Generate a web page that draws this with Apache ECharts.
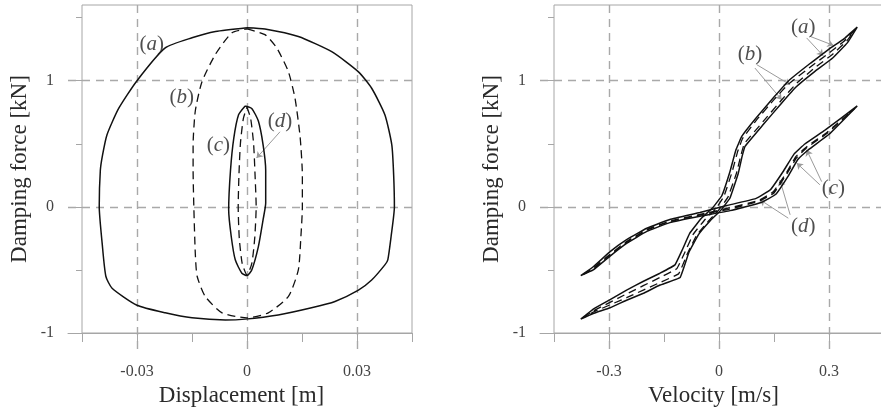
<!DOCTYPE html>
<html><head><meta charset="utf-8">
<script src="https://cdn.jsdelivr.net/npm/echarts@6/dist/echarts.min.js"></script>
<style>html,body{margin:0;padding:0;background:#fff}#c{width:881px;height:410px}</style>
</head><body><div id="c"></div>
<script>
// ---------- tick labels ----------
const dispTickVals = [-0.03, 0, 0.03];
const dispTickLabels = ['-0.03', '0', '0.03'];
const velTickVals = [-0.3, 0, 0.3];
const velTickLabels = ['-0.3', '0', '0.3'];
const forceTickVals = [-1, 0, 1];
const forceTickLabels = ['-1', '0', '1'];

// ---------- left panel: force vs displacement ----------
const dispA = [[0.0,1.42],[0.0049,1.41],[0.014,1.35],[0.0231,1.23],[0.0304,1.07],[0.034,0.94],[0.0376,0.73],[0.0395,0.49],[0.040,0.25],[0.0402,0.0],[0.0393,-0.235],[0.0384,-0.42],[0.0376,-0.46],[0.034,-0.58],[0.0304,-0.66],[0.024,-0.75],[0.0176,-0.80],[0.0085,-0.857],[-0.0005,-0.89],[-0.0059,-0.897],[-0.015,-0.88],[-0.0223,-0.84],[-0.030,-0.78],[-0.0368,-0.645],[-0.0385,-0.55],[-0.0395,-0.29],[-0.0403,0.0],[-0.040,0.29],[-0.0394,0.41],[-0.0382,0.57],[-0.035,0.78],[-0.030,1.0],[-0.0223,1.26],[-0.015,1.34],[-0.0086,1.39],[0.0,1.42]];
const dispB = [[0.0,1.41],[0.0049,1.365],[0.0081,1.26],[0.0113,1.07],[0.0131,0.86],[0.0145,0.55],[0.0151,0.25],[0.0151,0.0],[0.0147,-0.235],[0.014,-0.5],[0.0113,-0.71],[0.0058,-0.84],[0.0,-0.88],[-0.0068,-0.84],[-0.0114,-0.71],[-0.0136,-0.55],[-0.0141,-0.37],[-0.0145,0.0],[-0.0147,0.29],[-0.0147,0.49],[-0.0141,0.76],[-0.0123,0.99],[-0.0086,1.21],[-0.0041,1.38],[0.0,1.41]];
const dispC = [[-0.0005,0.80],[0.0013,0.78],[0.0031,0.68],[0.0044,0.49],[0.0051,0.29],[0.0051,0.03],[0.0044,-0.10],[0.0031,-0.315],[0.0013,-0.50],[0.0,-0.545],[-0.0014,-0.526],[-0.0032,-0.42],[-0.0043,-0.235],[-0.005,-0.024],[-0.0045,0.29],[-0.0036,0.545],[-0.0023,0.73],[-0.0005,0.80]];
const dispD = [[0,0.79],[0.001,0.70],[0.0018,0.50],[0.0022,0.25],[0.0025,0.0],[0.0021,-0.25],[0.0013,-0.45],[0,-0.54],[-0.0013,-0.45],[-0.0021,-0.25],[-0.0024,0.0],[-0.0022,0.25],[-0.0018,0.5],[-0.001,0.70],[0,0.79]];

// ---------- right panel: force vs velocity ----------
const velA = [[-0.377,-0.89],[-0.343,-0.81],[-0.297,-0.735],[-0.252,-0.66],[-0.206,-0.59],[-0.161,-0.526],[-0.12,-0.46],[-0.10,-0.34],[-0.08,-0.21],[-0.048,-0.09],[-0.018,-0.01],[0.008,0.09],[0.03,0.28],[0.046,0.45],[0.062,0.558],[0.10,0.70],[0.15,0.87],[0.19,1.0],[0.25,1.14],[0.30,1.25],[0.34,1.33],[0.377,1.425],[0.35,1.30],[0.31,1.18],[0.26,1.07],[0.21,0.95],[0.17,0.82],[0.12,0.65],[0.071,0.48],[0.063,0.40],[0.052,0.26],[0.03,0.07],[0.004,-0.03],[-0.024,-0.11],[-0.056,-0.22],[-0.082,-0.36],[-0.106,-0.56],[-0.161,-0.62],[-0.206,-0.685],[-0.252,-0.74],[-0.297,-0.80],[-0.343,-0.845],[-0.377,-0.89]];
const velB = [[-0.37,-0.88],[-0.343,-0.825],[-0.252,-0.69],[-0.161,-0.56],[-0.115,-0.49],[-0.093,-0.36],[-0.071,-0.22],[-0.038,-0.10],[-0.01,-0.02],[0.013,0.08],[0.035,0.27],[0.051,0.44],[0.064,0.54],[0.10,0.68],[0.15,0.85],[0.19,0.975],[0.25,1.11],[0.30,1.22],[0.34,1.31],[0.37,1.40],[0.35,1.32],[0.31,1.21],[0.26,1.10],[0.21,0.975],[0.17,0.845],[0.12,0.675],[0.069,0.50],[0.059,0.40],[0.047,0.26],[0.024,0.075],[-0.002,-0.03],[-0.028,-0.11],[-0.06,-0.22],[-0.086,-0.37],[-0.11,-0.53],[-0.161,-0.60],[-0.252,-0.72],[-0.343,-0.835],[-0.37,-0.88]];
const velC = [[-0.377,-0.545],[-0.343,-0.475],[-0.297,-0.355],[-0.252,-0.26],[-0.197,-0.17],[-0.134,-0.10],[-0.052,-0.045],[0.021,0.01],[0.10,0.065],[0.14,0.135],[0.175,0.28],[0.205,0.42],[0.235,0.50],[0.29,0.61],[0.377,0.80],[0.30,0.575],[0.245,0.455],[0.215,0.375],[0.19,0.25],[0.155,0.10],[0.115,0.035],[0.03,-0.03],[-0.052,-0.075],[-0.134,-0.125],[-0.197,-0.195],[-0.252,-0.29],[-0.297,-0.39],[-0.343,-0.50],[-0.377,-0.545]];
const velD = [[-0.37,-0.535],[-0.343,-0.485],[-0.297,-0.375],[-0.252,-0.275],[-0.197,-0.18],[-0.134,-0.112],[-0.052,-0.06],[0.025,-0.01],[0.108,0.05],[0.148,0.12],[0.183,0.265],[0.21,0.40],[0.24,0.478],[0.295,0.592],[0.37,0.78],[0.296,0.585],[0.24,0.47],[0.212,0.39],[0.185,0.262],[0.15,0.11],[0.11,0.045],[0.027,-0.02],[-0.052,-0.065],[-0.134,-0.117],[-0.197,-0.185],[-0.252,-0.282],[-0.297,-0.382],[-0.343,-0.492],[-0.37,-0.535]];

// ---------- annotations ----------
const curveNames = ['a', 'b', 'c', 'd'];
const leftLabelPos = [[-0.026, 1.286], [-0.0178, 0.865], [-0.0078, 0.49], [0.009, 0.675]];
const leftArrows = [[[0.009, 0.595], [0.0026, 0.387]]];
const rightLabelPos = [[0.230, 1.418], [0.0845, 1.206], [0.312, 0.148], [0.23, -0.156]];
const rightArrows = [
  [[0.248, 1.352], [0.312, 1.28]], [[0.239, 1.339], [0.284, 1.198]],
  [[0.103, 1.127], [0.194, 0.968]], [[0.098, 1.10], [0.171, 0.849]],
  [[0.28, 0.20], [0.239, 0.452]], [[0.275, 0.175], [0.212, 0.347]],
  [[0.189, -0.09], [0.112, 0.056]], [[0.194, -0.063], [0.166, 0.214]]
];

const SERIF = 'Liberation Serif, Times New Roman, serif';
const AX = '#a6a6a6';
const GRIDC = '#a9a9a9';
const T = 'rgba(0,0,0,0)';

function lookup(vals, labels) {
  return function (v) {
    const i = vals.findIndex(t => Math.abs(t - v) < 1e-9);
    return i >= 0 ? labels[i] : '';
  };
}

function panelAxes(xmin, xmax, xint, xName, xVals, xLabels) {
  const xs = [
    { // main
      type: 'value', gridIndex: 0, min: xmin, max: xmax, interval: xint, position: 'bottom',
      name: xName, nameLocation: 'middle', nameGap: 43,
      nameTextStyle: { fontFamily: SERIF, fontSize: 23, color: '#2a2a2a', padding: [0, 11, 0, 0] },
      axisLine: { show: false, onZero: false },
      axisTick: { show: true, inside: false, length: 9, lineStyle: { color: AX, width: 1 } },
      axisLabel: { show: true, margin: 31, fontFamily: SERIF, fontSize: 16, color: '#444', formatter: lookup(xVals, xLabels) },
      splitLine: { show: false }
    },
    { // vertical dashed gridlines (extend below axis)
      type: 'value', gridIndex: 1, min: xmin, max: xmax, interval: xint, position: 'bottom',
      axisLine: { show: false, onZero: false }, axisTick: { show: false }, axisLabel: { show: false },
      splitLine: { show: true, lineStyle: { color: [T, GRIDC, T, GRIDC, T, GRIDC, T], type: [8, 6], width: 1.4 } }
    },
    { // extended bottom axis line
      type: 'value', gridIndex: 2, min: 0, max: 1, position: 'bottom',
      axisLine: { show: true, onZero: false, lineStyle: { color: AX, width: 1 } },
      axisTick: { show: false }, axisLabel: { show: false }, splitLine: { show: false }
    }
  ];
  const ys = [
    {
      type: 'value', gridIndex: 0, min: -1, max: 1.6, interval: 0.5, position: 'left',
      name: 'Damping force [kN]', nameLocation: 'middle', nameGap: 51,
      nameTextStyle: { fontFamily: SERIF, fontSize: 23, color: '#2a2a2a' },
      axisLine: { show: false, onZero: false },
      axisTick: { show: true, inside: false, length: 6, lineStyle: { color: AX, width: 1 }, customValues: [-1, -0.5, 0, 0.5, 1, 1.5] },
      axisLabel: { show: true, margin: 28, fontFamily: SERIF, fontSize: 16, color: '#444', formatter: lookup(forceTickVals, forceTickLabels) },
      splitLine: { show: false }
    },
    {
      type: 'value', gridIndex: 1, min: 0, max: 1, position: 'left',
      axisLine: { show: false, onZero: false }, axisTick: { show: false }, axisLabel: { show: false }, splitLine: { show: false }
    },
    {
      type: 'value', gridIndex: 2, min: -1, max: 1.6, interval: 0.5, position: 'left',
      axisLine: { show: false, onZero: false }, axisTick: { show: false }, axisLabel: { show: false },
      splitLine: { show: true, lineStyle: { color: [T, T, GRIDC, T, GRIDC, T, T], type: [8, 6], width: 1.4 } }
    }
  ];
  return { xs, ys };
}

const L = panelAxes(-0.045, 0.045, 0.015, 'Displacement [m]', dispTickVals, dispTickLabels);
const R = panelAxes(-0.45, 0.45, 0.15, 'Velocity [m/s]', velTickVals, velTickLabels);
R.xs.forEach(a => a.gridIndex += 3);
R.ys.forEach(a => a.gridIndex += 3);

function curve(data, xi, dashed, smooth) {
  return {
    type: 'line', xAxisIndex: xi, yAxisIndex: xi, data: data, showSymbol: false, symbol: 'none',
    smooth: smooth, z: 5, silent: true,
    lineStyle: { color: '#111', width: dashed ? 1.3 : 1.5, type: dashed ? [8, 5] : 'solid' }
  };
}

const richStyle = {
  p: { fontFamily: SERIF, fontSize: 21, color: '#222' },
  i: { fontFamily: SERIF, fontSize: 21, fontStyle: 'italic', color: '#222' }
};
function labelSeries(pos, arrows, xi) {
  return {
    type: 'scatter', xAxisIndex: xi, yAxisIndex: xi, symbolSize: 0, silent: true, z: 10,
    data: pos.map((p, k) => [p[0], p[1], curveNames[k]]),
    label: { show: true, position: 'inside', formatter: p => '{p|(}{i|' + p.data[2] + '}{p|)}', rich: richStyle },
    markLine: {
      silent: true, animation: false, symbol: ['none', 'arrow'], symbolSize: 6,
      label: { show: false },
      lineStyle: { color: '#9a9a9a', width: 1, type: 'solid' },
      data: arrows.map(a => [{ coord: a[0] }, { coord: a[1] }])
    }
  };
}

const G = { outerBoundsMode: 'none', containLabel: false };
const chart = echarts.init(document.getElementById('c'), null, { renderer: 'canvas' });
chart.setOption({
  animation: false,
  backgroundColor: '#fff',
  grid: [
    Object.assign({ left: 82, top: 5, width: 330, height: 328, show: true, borderColor: AX, borderWidth: 1, backgroundColor: 'transparent' }, G),
    Object.assign({ left: 82, top: 5, width: 330, height: 345 }, G),
    Object.assign({ left: 68, top: 5, width: 344, height: 328 }, G),
    Object.assign({ left: 554, top: 5, width: 330, height: 328, show: true, borderColor: AX, borderWidth: 1, backgroundColor: 'transparent' }, G),
    Object.assign({ left: 554, top: 5, width: 330, height: 345 }, G),
    Object.assign({ left: 540, top: 5, width: 344, height: 328 }, G)
  ],
  xAxis: L.xs.concat(R.xs),
  yAxis: L.ys.concat(R.ys),
  series: [
    curve(dispA, 0, false, 0.2), curve(dispB, 0, true, 0.2), curve(dispC, 0, false, 0.2), curve(dispD, 0, true, 0.2),
    curve(velA, 3, false, 0.08), curve(velB, 3, true, 0.08), curve(velC, 3, false, 0.1), curve(velD, 3, true, 0.1),
    labelSeries(leftLabelPos, leftArrows, 0),
    labelSeries(rightLabelPos, rightArrows, 3)
  ]
});
</script></body></html>
